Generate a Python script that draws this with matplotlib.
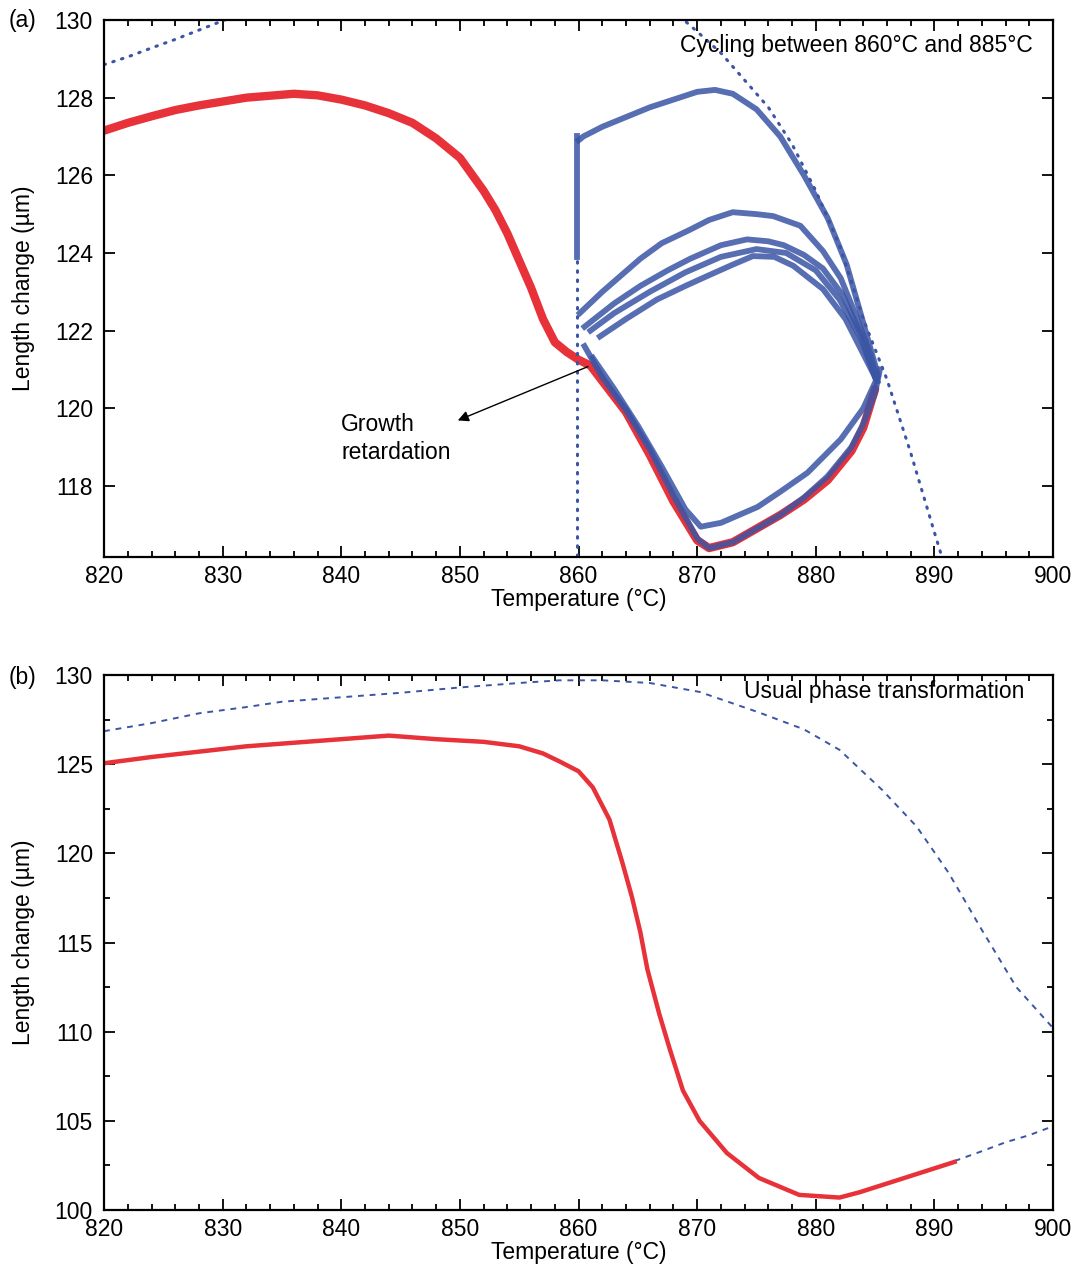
import matplotlib
matplotlib.use("Agg")
import matplotlib.pyplot as plt
from matplotlib.ticker import MultipleLocator

plt.rcParams["font.family"] = ["Liberation Sans", "DejaVu Sans"]

RED = "#e8323a"
BLUE = "#3b55a5"
FS = 16.5

# ---------------- panel (a): cycling ----------------
red_a_T = [820, 822, 824, 826, 828, 830, 832, 834, 836, 838, 840, 842, 844, 846,
           848, 850, 852, 853, 854, 855, 856, 857, 858, 859, 860, 861, 862, 864,
           866, 868, 870, 871, 873, 875, 877, 879, 881, 883, 884, 885]
red_a_L = [127.15, 127.35, 127.52, 127.68, 127.8, 127.9, 128.0, 128.05, 128.1,
           128.06, 127.95, 127.8, 127.6, 127.35, 126.95, 126.45, 125.6, 125.1,
           124.5, 123.8, 123.1, 122.3, 121.7, 121.45, 121.25, 121.1, 120.7,
           119.9, 118.8, 117.6, 116.6, 116.4, 116.55, 116.9, 117.25, 117.65,
           118.15, 118.9, 119.5, 120.5]

# first heating: jump at 860 then upper arc
vert_T = [859.9, 859.9]
vert_L = [123.9, 127.0]
vert_sparse_L = [116.2, 123.9]

first_T = [860.0, 860.4, 862, 864, 866, 868, 870, 871.5, 873, 875, 877, 879,
           881, 882.6, 884, 885.2]
first_L = [126.9, 127.0, 127.25, 127.5, 127.75, 127.95, 128.15, 128.2, 128.1,
           127.7, 127.0, 126.0, 124.9, 123.7, 122.2, 120.9]

arc1_T = [860.1, 862, 865.2, 867, 869.4, 871, 873, 875, 876.4, 878.7, 880.6,
          882.1, 883.5, 884.6, 885.2]
arc1_L = [122.45, 123.0, 123.85, 124.25, 124.6, 124.85, 125.05, 125.0, 124.95,
          124.7, 124.05, 123.35, 122.3, 121.4, 120.7]
arc2_T = [860.5, 863, 865.2, 867.5, 869.4, 872, 874.2, 876, 877.3, 879, 880.6,
          882.3, 883.8, 885]
arc2_L = [122.1, 122.7, 123.15, 123.55, 123.85, 124.2, 124.35, 124.3, 124.2,
          123.95, 123.6, 122.9, 121.9, 120.8]
arc3_T = [861, 863, 866, 869, 872, 875, 877.5, 880, 882, 883.8, 885]
arc3_L = [122.0, 122.45, 123.0, 123.5, 123.9, 124.1, 124.0, 123.55, 122.8,
          121.8, 120.8]
arc4_T = [861.8, 864, 866.6, 869, 870.8, 873, 874.7, 876.5, 878.1, 880.6,
          882.5, 884, 885]
arc4_L = [121.85, 122.3, 122.8, 123.15, 123.4, 123.7, 123.92, 123.9, 123.67,
          123.07, 122.3, 121.4, 120.8]

low1_T = [860.5, 862, 864, 866, 868, 870, 871, 873, 875, 877, 879, 881, 883,
          884, 885, 885.4]
low1_L = [121.6, 120.8, 119.95, 118.95, 117.75, 116.65, 116.4, 116.55, 116.9,
          117.25, 117.7, 118.25, 119.0, 119.6, 120.4, 121.0]
low2_T = [861.2, 863, 865, 867, 869, 870.3, 872, 875.1, 877, 879.3, 882.1,
          884, 885.2]
low2_L = [121.3, 120.5, 119.55, 118.5, 117.4, 116.95, 117.05, 117.46, 117.85,
          118.34, 119.2, 120.0, 120.8]

tail_left_T = [820, 822, 824, 826, 828, 830, 831]
tail_left_L = [128.85, 129.05, 129.28, 129.5, 129.74, 129.98, 130.1]
tail_right_T = [868.5, 870, 872, 874, 876, 878, 880, 882, 884, 886, 888, 890,
                890.6]
tail_right_L = [130.1, 129.7, 129.15, 128.45, 127.75, 126.8, 125.6, 124.2,
                122.3, 120.74, 118.85, 116.8, 116.2]

# ---------------- panel (b): usual transformation ----------------
red_b_T = [820, 824, 828, 832, 836, 840, 844, 848, 852, 855, 857, 858.4, 860,
           861.2, 862.6, 863.7, 864.5, 865.2, 865.8, 866.8, 867.7, 868.8,
           870.2, 872.5, 875.2, 878.6, 882, 883.7, 887, 891.7]
red_b_L = [125.05, 125.4, 125.7, 126.0, 126.2, 126.4, 126.6, 126.4, 126.25,
           126.0, 125.6, 125.15, 124.6, 123.7, 121.9, 119.46, 117.55, 115.6,
           113.5, 111.0, 109.0, 106.7, 105.0, 103.2, 101.8, 100.85, 100.7,
           101.0, 101.7, 102.7]
blue_b_T = [820, 824, 828, 832, 835, 840, 845, 850, 855, 858.4, 862, 866,
            870.2, 875.2, 879, 882, 885.6, 888.5, 891.2, 894, 896.9, 900]
blue_b_L = [126.85, 127.3, 127.85, 128.2, 128.5, 128.75, 129.0, 129.3, 129.55,
            129.7, 129.7, 129.55, 129.05, 127.9, 126.95, 125.8, 123.55, 121.5,
            118.9, 115.7, 112.5, 110.2]
blue_b_tail_T = [891.7, 894, 896, 898, 900]
blue_b_tail_L = [102.75, 103.3, 103.8, 104.2, 104.7]


def style_axes(ax, ylim, yticks, yminor=None):
    ax.set_xlim(820, 900)
    ax.set_ylim(*ylim)
    ax.set_xticks(range(820, 901, 10))
    ax.set_yticks(yticks)
    ax.xaxis.set_minor_locator(MultipleLocator(2))
    if yminor:
        ax.yaxis.set_minor_locator(MultipleLocator(yminor))
    ax.tick_params(which="both", direction="in", top=True, right=True,
                   labelsize=FS, width=1.3)
    ax.tick_params(axis="x", which="major", length=8, pad=6)
    ax.tick_params(axis="y", which="major", length=8, pad=8)
    ax.tick_params(which="minor", length=4)
    for s in ax.spines.values():
        s.set_linewidth(1.6)
    ax.set_xlabel("Temperature (°C)", fontsize=FS, labelpad=0)
    ax.set_ylabel("Length change (µm)", fontsize=FS, labelpad=14)


fig = plt.figure(figsize=(10.76, 12.74), dpi=100)
ax1 = fig.add_axes([0.0967, 0.5628, 0.882, 0.4215])
ax2 = fig.add_axes([0.0967, 0.0502, 0.882, 0.4200])

# panel (a)
ax1.plot(red_a_T, red_a_L, color=RED, lw=6, solid_capstyle="round")
dot = dict(color=BLUE, lw=2.2, linestyle=(0, (0.5, 2.5)),
           dash_capstyle="round")
ax1.plot(tail_left_T, tail_left_L, **dot)
ax1.plot(tail_right_T, tail_right_L, **dot)
ax1.plot([vert_T[0]] * 2, vert_sparse_L, **dot)
band = dict(color=BLUE, lw=4.2, alpha=0.85)
ax1.plot(vert_T, vert_L, **band)
for T, L in [(first_T, first_L), (arc1_T, arc1_L), (arc2_T, arc2_L),
             (arc3_T, arc3_L), (arc4_T, arc4_L), (low1_T, low1_L),
             (low2_T, low2_L)]:
    ax1.plot(T, L, **band)
style_axes(ax1, (116.17, 130), range(118, 131, 2))
ax1.text(898.3, 129.35, "Cycling between 860°C and 885°C", fontsize=FS,
         ha="right", va="center")
ax1.annotate("", xy=(849.6, 119.66), xytext=(861.0, 121.1),
             arrowprops=dict(arrowstyle="-|>", color="black", lw=1.0,
                             mutation_scale=16))
ax1.text(840.0, 119.22, "Growth\nretardation", fontsize=FS, ha="left",
         va="center", linespacing=1.3)

# panel (b)
ax2.plot(blue_b_T, blue_b_L, color=BLUE, lw=1.4, linestyle=(0, (3, 3)))
ax2.plot(blue_b_tail_T, blue_b_tail_L, color=BLUE, lw=1.4,
         linestyle=(0, (3, 3)))
ax2.plot(red_b_T, red_b_L, color=RED, lw=3.2)
style_axes(ax2, (100, 130), range(100, 131, 5), yminor=2.5)
ax2.text(897.6, 129.1, "Usual phase transformation", fontsize=FS,
         ha="right", va="center")

fig.text(0.008, 0.984, "(a)", fontsize=FS, va="center")
fig.text(0.008, 0.4685, "(b)", fontsize=FS, va="center")

fig.savefig("out.png", dpi=100)
